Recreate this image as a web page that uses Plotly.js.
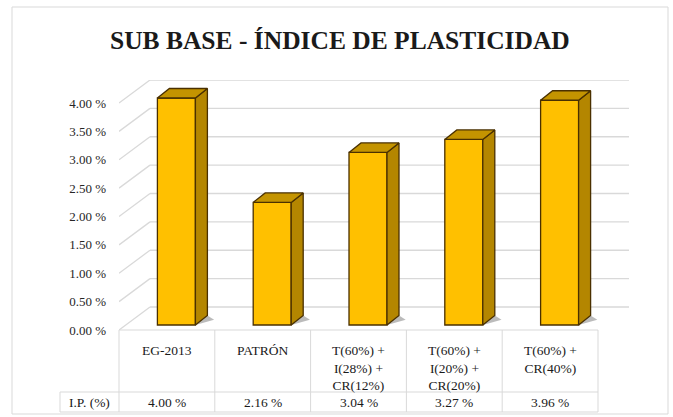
<!DOCTYPE html>
<html><head><meta charset="utf-8">
<script src="https://cdn.plot.ly/plotly-3.0.1.min.js"></script>
<style>html,body{margin:0;padding:0;background:#fff}</style>
</head><body><div id="chart" style="width:673px;height:417px"></div>
<script>
// ---- data ----
const categories = ['EG-2013', 'PATRÓN', 'T(60%) +<br>I(28%) +<br>CR(12%)', 'T(60%) +<br>I(20%) +<br>CR(20%)', 'T(60%) +<br>CR(40%)'];
const ipValues = [4.00, 2.16, 3.04, 3.27, 3.96];
const yTicks = [0, 0.5, 1, 1.5, 2, 2.5, 3, 3.5, 4];
const rowLabel = 'I.P. (%)';
const titleText = 'SUB BASE - ÍNDICE DE PLASTICIDAD';

// ---- geometry / style ----
const W = 673, H = 417, ML = 119, MR = 44, MT = 80, MB = 87;
const PW = W - ML - MR, PH = H - MT - MB;
const catPx = 95.8;
const x0 = -0.5, x1 = x0 + PW / catPx;
const yMax = 4.405;
const yPx = PH / yMax;
const depthX = 31 / catPx, depthY = 23 / yPx;
const frontX = 9.5 / catPx, frontY = 5 / yPx;
const barW = 38 / catPx;
const barDX = 12 / catPx, barDY = 9.5 / yPx;
const FONT = '"Times New Roman", "Liberation Serif", "DejaVu Serif", serif';
const gridCol = '#d9d9d9';
const edgeCol = '#4a3000';
const px2p = px => (px - ML) / PW;
const py2p = py => (H - MB - py) / PH;
const xd2px = xd => ML + (xd - x0) * catPx;

const shapes = [];
// walls gridlines
yTicks.forEach(v => {
  shapes.push({type: 'line', xref: 'x', yref: 'y', layer: 'below', x0: x0, y0: v, x1: x0 + depthX, y1: v + depthY, line: {color: gridCol, width: 1.3}});
  shapes.push({type: 'line', xref: 'x', yref: 'y', layer: 'below', x0: x0 + depthX, y0: v + depthY, x1: x0 + categories.length + depthX, y1: v + depthY, line: {color: gridCol, width: 1.3}});
});
// shadows
ipValues.forEach((v, i) => {
  const xr = i + frontX + barW / 2;
  const xl = i + frontX - barW / 2;
  shapes.push({type: 'path', xref: 'x', yref: 'y', layer: 'below',
    path: `M${xl + 0.02},${frontY} L${xr},${frontY} L${xr + barDX + 0.07},${frontY + barDY * 0.55} L${xr + barDX},${frontY + barDY} Z`,
    fillcolor: 'rgba(60,60,60,0.35)', line: {width: 0}});
});
// table
const tblTop = 330, tblMid = 392, tblBot = 412, hdrLeft = 60;
const tblL = xd2px(-0.5), tblR = xd2px(categories.length - 0.5);
const tl = (a, b, c, d) => shapes.push({type: 'line', xref: 'paper', yref: 'paper', x0: px2p(a), y0: py2p(b), x1: px2p(c), y1: py2p(d), line: {color: gridCol, width: 1}});
tl(tblL, tblTop, tblR, tblTop);
tl(hdrLeft, tblMid, tblR, tblMid);
tl(hdrLeft, tblBot, tblR, tblBot);
tl(hdrLeft, tblMid, hdrLeft, tblBot);
for (let k = 0; k <= categories.length; k++) {
  const px = xd2px(k - 0.5);
  tl(px, tblTop, px, tblBot);
}
// outer border
shapes.push({type: 'rect', xref: 'paper', yref: 'paper', x0: px2p(12), y0: py2p(414), x1: px2p(668), y1: py2p(7), line: {color: '#d9d9d9', width: 1}});

// annotations
const annotations = [];
categories.forEach((c, i) => {
  annotations.push({xref: 'x', yref: 'paper', x: i, y: py2p(341), yanchor: 'top', xanchor: 'center', text: c, showarrow: false, align: 'center', font: {family: FONT, size: 13.5, color: '#1a1a1a'}});
  annotations.push({xref: 'x', yref: 'paper', x: i, y: py2p(402), yanchor: 'middle', xanchor: 'center', text: ipValues[i].toFixed(2) + ' %', showarrow: false, font: {family: FONT, size: 13.5, color: '#1a1a1a'}});
});
annotations.push({xref: 'paper', yref: 'paper', x: px2p((hdrLeft + tblL) / 2), y: py2p(402), yanchor: 'middle', xanchor: 'center', text: rowLabel, showarrow: false, font: {family: FONT, size: 13.5, color: '#1a1a1a'}});

// traces
const traces = [];
traces.push({type: 'bar', x: ipValues.map((v, i) => i + frontX), y: ipValues, base: frontY, width: barW,
  marker: {color: '#FFC000', line: {color: edgeCol, width: 1.3}}, hoverinfo: 'skip', showlegend: false, cliponaxis: false});
ipValues.forEach((v, i) => {
  const xl = i + frontX - barW / 2, xr = i + frontX + barW / 2, t = v + frontY;
  traces.push({type: 'scatter', mode: 'lines', fill: 'toself', fillcolor: '#B48600',
    x: [xr, xr + barDX, xr + barDX, xr, xr], y: [frontY, frontY + barDY, t + barDY, t, frontY],
    line: {color: edgeCol, width: 1.3}, hoverinfo: 'skip', showlegend: false, cliponaxis: false});
  traces.push({type: 'scatter', mode: 'lines', fill: 'toself', fillcolor: '#C49400',
    x: [xl, xr, xr + barDX, xl + barDX, xl], y: [t, t, t + barDY, t + barDY, t],
    line: {color: edgeCol, width: 1.3}, hoverinfo: 'skip', showlegend: false, cliponaxis: false});
});

const layout = {
  width: W, height: H,
  font: {family: FONT},
  margin: {l: ML, r: MR, t: MT, b: MB, pad: 0},
  paper_bgcolor: '#ffffff', plot_bgcolor: 'rgba(0,0,0,0)',
  title: {text: '<b>' + titleText + '</b>', x: 0.505, xref: 'container', xanchor: 'center', y: 1 - 40 / H, yref: 'container', yanchor: 'middle',
    font: {family: FONT, size: 25.5, color: '#1a1a1a'}},
  xaxis: {range: [x0, x1], visible: false, fixedrange: true},
  yaxis: {range: [0, yMax], tickvals: yTicks, ticktext: yTicks.map(v => v.toFixed(2) + ' %'),
    showgrid: false, zeroline: false, showline: false, ticks: '', ticklabelstandoff: 12,
    tickfont: {family: FONT, size: 13, color: '#262626'}, fixedrange: true},
  shapes: shapes, annotations: annotations, showlegend: false
};
Plotly.newPlot('chart', traces, layout, {displayModeBar: false, staticPlot: true});
</script>
</body></html>
